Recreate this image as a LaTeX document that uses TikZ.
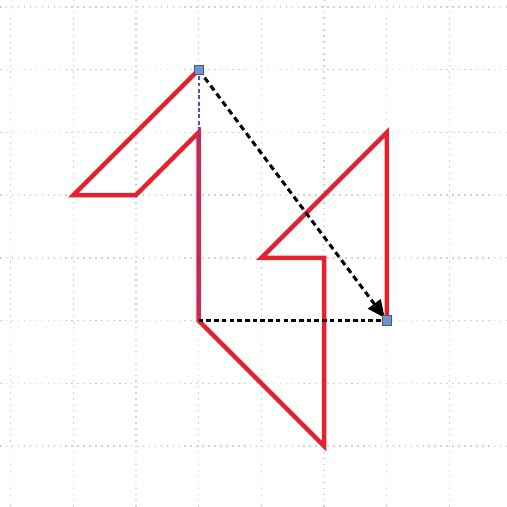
\documentclass[tikz,border=0pt]{standalone}
\usetikzlibrary{arrows.meta}
\definecolor{redline}{RGB}{232,32,44}
\definecolor{purpline}{RGB}{112,64,186}
\definecolor{sqfill}{RGB}{110,150,205}
\definecolor{sqdraw}{RGB}{60,90,140}
\tikzset{
  gridline/.style={gray!35, line width=0.6pt, dash pattern=on 0.7pt off 2pt},
  redpath/.style={redline, line width=2pt, line join=miter},
  vdash/.style={purpline, line width=1pt, dash pattern=on 1.8pt off 1.1pt},
  hdash/.style={black, line width=1pt, dash pattern=on 2.1pt off 1.4pt},
  arrowdash/.style={black, line width=1.4pt, dash pattern=on 2.7pt off 1.8pt, -{Triangle[length=8pt,width=7pt]}, shorten >=1.5pt},
  handle/.style={draw=sqdraw, fill=sqfill, line width=0.4pt, minimum size=4.2pt, inner sep=0pt, rectangle}
}
\begin{document}
\begin{tikzpicture}
\useasboundingbox (-0.168,-0.973) rectangle (7.906,7.112);
\foreach \i in {0,...,7} {
  \draw[gridline] (\i,-0.973) -- (\i,7.112);
  \draw[gridline] (-0.168,\i) -- (7.906,\i);
}
\coordinate (p1) at (3,6);
\coordinate (p2) at (1,4);
\coordinate (p3) at (2,4);
\coordinate (p4) at (3,5);
\coordinate (p5) at (3,2);
\coordinate (p6) at (5,0);
\coordinate (p7) at (5,3);
\coordinate (p8) at (4,3);
\coordinate (p9) at (6,5);
\coordinate (p10) at (6,2);
\draw[redpath] (p1) -- (p2) -- (p3) -- (p4) -- (p5) -- (p6) -- (p7) -- (p8) -- (p9) -- (p10);
\draw[vdash] (p1) -- (p5);
\draw[hdash] (p5) -- (p10);
\draw[arrowdash] (p1) -- (p10);
\node[handle] (hA) at (p1) {};
\node[handle] (hB) at (p10) {};
\end{tikzpicture}
\end{document}
